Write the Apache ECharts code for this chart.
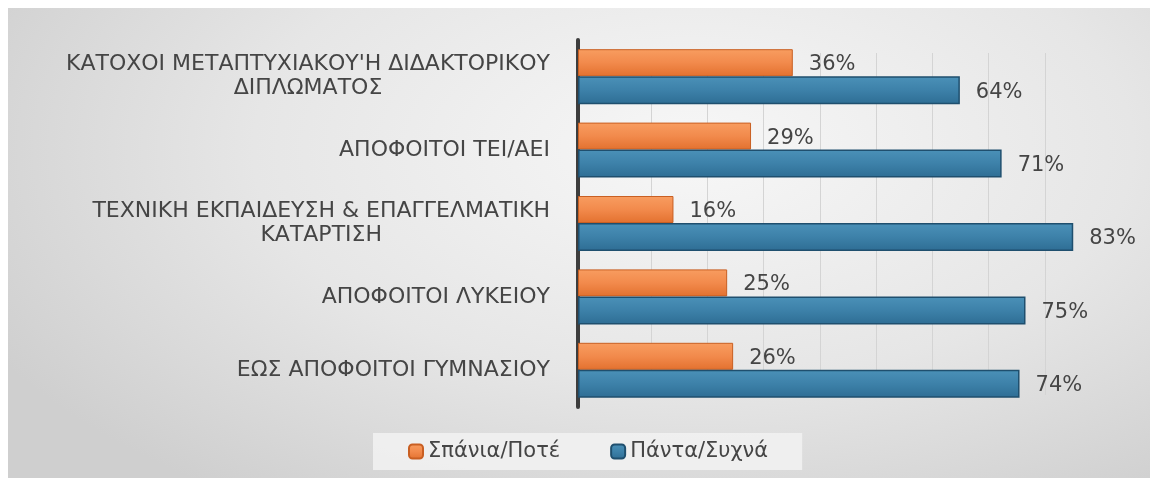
<!DOCTYPE html>
<html>
<head>
<meta charset="utf-8">
<script src="https://cdn.jsdelivr.net/npm/echarts@6/dist/echarts.min.js"></script>
<style>
  html, body { margin: 0; padding: 0; background: #fff; }
  .frame {
    position: absolute; left: 8px; top: 8px; width: 1142px; height: 470px;
    background: radial-gradient(ellipse 70% 90% at 60% 30%, #f7f7f7 0%, #e6e6e6 55%, #cfcfcf 100%);
  }
  #chart { position: absolute; left: 0; top: 0; width: 1156px; height: 480px; }
</style>
</head>
<body>
<div class="frame"></div>
<div id="chart"></div>
<script>
// categories, top to bottom
const categories = [
  'ΚΑΤΟΧΟΙ ΜΕΤΑΠΤΥΧΙΑΚΟΥ\'Η ΔΙΔΑΚΤΟΡΙΚΟΥ\nΔΙΠΛΩΜΑΤΟΣ',
  'ΑΠΟΦΟΙΤΟΙ ΤΕΙ/ΑΕΙ',
  'ΤΕΧΝΙΚΗ ΕΚΠΑΙΔΕΥΣΗ & ΕΠΑΓΓΕΛΜΑΤΙΚΗ\nΚΑΤΑΡΤΙΣΗ',
  'ΑΠΟΦΟΙΤΟΙ ΛΥΚΕΙΟΥ',
  'ΕΩΣ ΑΠΟΦΟΙΤΟΙ ΓΥΜΝΑΣΙΟΥ'
]
const rarelyNever = [36, 29, 16, 25, 26]
const alwaysOften = [64, 71, 83, 75, 74]
const seriesNames = ['Σπάνια/Ποτέ', 'Πάντα/Συχνά']

const chart = echarts.init(document.getElementById('chart'))

const orangeFill = new echarts.graphic.LinearGradient(0, 0, 0, 1, [
  { offset: 0, color: '#f89d60' },
  { offset: 0.5, color: '#f28a4c' },
  { offset: 1, color: '#e3712f' }
])
const blueFill = new echarts.graphic.LinearGradient(0, 0, 0, 1, [
  { offset: 0, color: '#4b91b8' },
  { offset: 0.5, color: '#3d81a9' },
  { offset: 1, color: '#2e6d94' }
])

const labelStyle = {
  show: true,
  position: 'right',
  distance: 16,
  formatter: '{c}%',
  fontFamily: 'DejaVu Sans',
  fontSize: 21,
  color: '#454545'
}

const option = {
  animation: false,
  textStyle: { fontFamily: 'DejaVu Sans' },
  grid: [
    { left: 578, right: 41, top: 40, bottom: 73 },
    // back wall gridlines (perspective)
    { left: 595, right: 55, top: 53, bottom: 85 }
  ],
  legend: {
    bottom: 10,
    left: 373,
    itemWidth: 14,
    itemHeight: 14,
    itemGap: 50,
    padding: [8, 34, 8, 35],
    backgroundColor: 'rgba(242,242,242,0.85)',
    textStyle: { fontSize: 21, color: '#454545', fontFamily: 'DejaVu Sans' },
    data: seriesNames
  },
  xAxis: [
    {
      type: 'value',
      gridIndex: 0,
      min: 0,
      max: 90,
      interval: 10,
      axisLabel: { show: false },
      axisLine: { show: false },
      axisTick: { show: false },
      splitLine: { show: false }
    },
    {
      type: 'value',
      gridIndex: 1,
      min: 0,
      max: 90,
      interval: 10,
      axisLabel: { show: false },
      axisLine: { show: false },
      axisTick: { show: false },
      splitLine: {
        show: true,
        showMinLine: false,
        showMaxLine: false,
        lineStyle: { color: '#d4d4d4', width: 1 }
      }
    }
  ],
  yAxis: [
    {
      type: 'category',
      gridIndex: 0,
      inverse: true,
      data: categories,
      offset: 8,
      axisLine: { show: true, lineStyle: { color: '#3d3d3d', width: 4 } },
      axisTick: { show: false },
      axisLabel: {
        margin: 20,
        fontSize: 22,
        color: '#454545',
        lineHeight: 24,
        formatter: v => v.split('\n').map(s => '{c|' + s + '}').join('\n'),
        rich: { c: { align: 'center', fontSize: 22, color: '#454545', lineHeight: 24, fontFamily: 'DejaVu Sans' } }
      }
    },
    {
      type: 'category',
      gridIndex: 1,
      data: categories,
      show: false
    }
  ],
  series: [
    {
      name: seriesNames[0],
      type: 'bar',
      data: rarelyNever,
      barWidth: 27,
      barGap: '0%',
      itemStyle: { color: orangeFill, borderColor: '#c95f22', borderWidth: 1 },
      label: Object.assign({}, labelStyle, { offset: [0, 2] })
    },
    {
      name: seriesNames[1],
      type: 'bar',
      data: alwaysOften,
      barWidth: 28,
      itemStyle: { color: blueFill, borderColor: '#1f4f6e', borderWidth: 1.5 },
      label: Object.assign({}, labelStyle, { offset: [0, 2] })
    }
  ]
}

chart.setOption(option)
</script>
</body>
</html>
